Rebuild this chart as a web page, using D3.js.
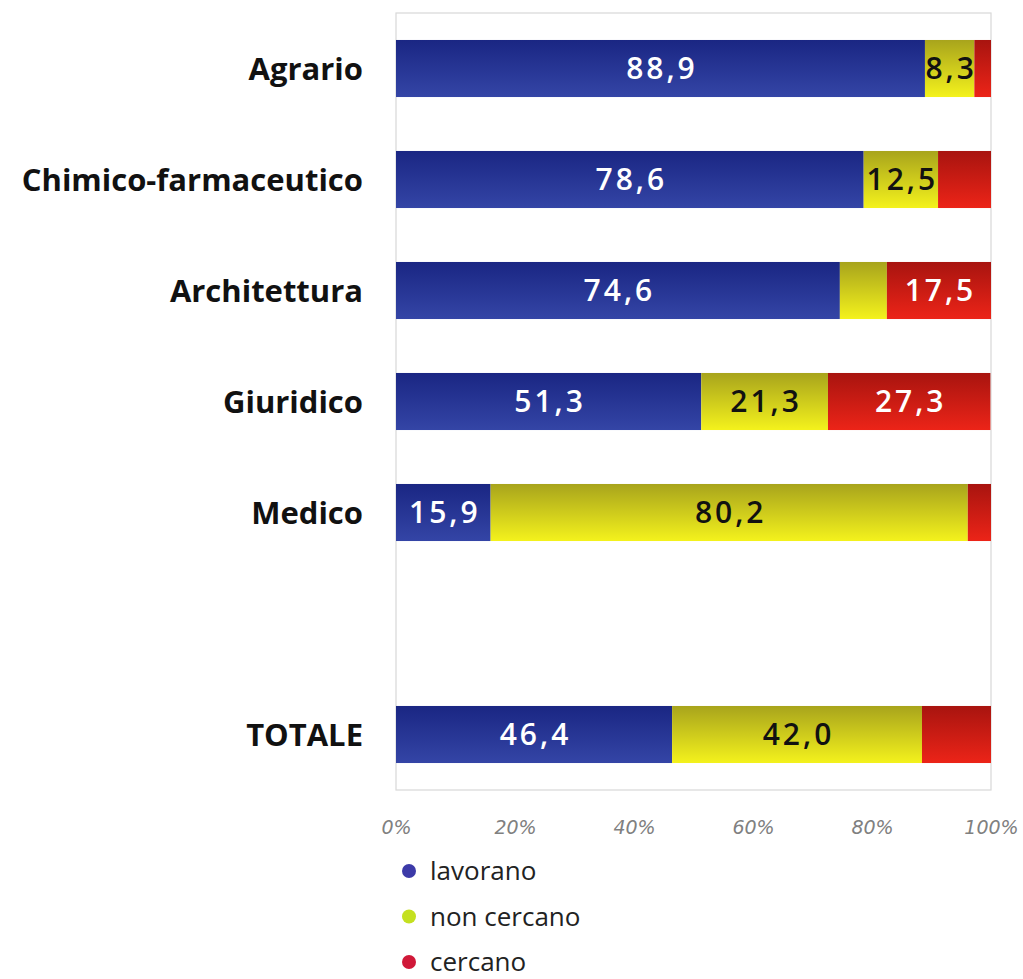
<!DOCTYPE html>
<html>
<head>
<meta charset="utf-8">
<script src="https://cdn.jsdelivr.net/npm/d3@7"></script>
<style>
	body { margin:0; background:#fff; }
	.cat-label { font-family:"Open Sans", sans-serif; font-weight:700; font-size:31px; fill:#111; }
	.val-label { font-family:"Open Sans", sans-serif; font-weight:600; font-size:30px; letter-spacing:3px; }
	.tick text { font-family:"DejaVu Sans", sans-serif; font-style:italic; font-size:19px; fill:#808080; }
	.legend-label { font-family:"Open Sans", sans-serif; font-size:26px; fill:#222; }
</style>
</head>
<body>
<div id="chart"></div>
<script>

// data
const categories = ["Agrario","Chimico-farmaceutico","Architettura","Giuridico","Medico","TOTALE"];
const lavorano    = [88.9, 78.6, 74.6, 51.3, 15.9, 46.4];
const nonCercano  = [ 8.3, 12.5,  7.9, 21.3, 80.2, 42.0];
const cercano     = [ 2.8,  8.9, 17.5, 27.3,  3.9, 11.6];
// which segments carry a printed value
const showLavorano   = [true, true, true, true, true, true];
const showNonCercano = [true, true, false, true, true, true];
const showCercano    = [false, false, true, true, false, false];
const seriesNames = ["lavorano","non cercano","cercano"];
const ticks = [0,20,40,60,80,100];

// set up
const w = 1023;
const h = 979;
const x0 = 396, x1 = 991;
const y0 = 13, y1 = 790;

// empty slot between Medico and TOTALE
const slots = categories.slice(0,5).concat([" "], categories.slice(5));

const x = d3.scaleLinear().domain([0,100]).range([x0,x1]);
const y = d3.scaleBand().domain(slots).range([y0,y1])
	.paddingInner(0.486).paddingOuter(0.243);

const series = [
	{key:"lavorano", values:lavorano, show:showLavorano, top:"#1a2683", bot:"#3445a6", text:"#fff", dot:"#3c3aa8"},
	{key:"nonCercano", values:nonCercano, show:showNonCercano, top:"#a8a41c", bot:"#f4f21c", text:"#111", dot:"#c4e020"},
	{key:"cercano", values:cercano, show:showCercano, top:"#a8140f", bot:"#ec2418", text:"#fff", dot:"#d01838"}
];

const svg = d3.select("#chart").append("svg")
	.attr("width", w)
	.attr("height", h);

// gradients
const defs = svg.append("defs");
series.forEach(s=>{
	const g = defs.append("linearGradient")
		.attr("id","grad-"+s.key)
		.attr("x1",0).attr("y1",0).attr("x2",0).attr("y2",1);
	g.append("stop").attr("offset","0%").attr("stop-color",s.top);
	g.append("stop").attr("offset","100%").attr("stop-color",s.bot);
});

// frame
svg.append("rect")
	.attr("x",x0).attr("y",y0)
	.attr("width",x1-x0).attr("height",y1-y0)
	.attr("fill","none")
	.attr("stroke","#d8d8d8")
	.attr("stroke-width",1.2);

// stacked rows
const rows = categories.map((c,i)=>{
	let acc = 0;
	return series.map(s=>{
		const seg = {cat:c, s:s, start:acc, val:s.values[i], show:s.show[i]};
		acc += s.values[i];
		return seg;
	});
}).flat();

svg.selectAll(".seg")
	.data(rows)
	.enter()
	.append("rect")
	.attr("class","seg")
	.attr("x",d=>x(d.start))
	.attr("y",d=>y(d.cat))
	.attr("width",d=>Math.min(x(d.start+d.val),x1)-x(d.start))
	.attr("height",y.bandwidth())
	.attr("fill",d=>"url(#grad-"+d.s.key+")");

svg.selectAll(".val-label")
	.data(rows.filter(d=>d.show))
	.enter()
	.append("text")
	.attr("class","val-label")
	.attr("x",d=>(x(d.start)+Math.min(x(d.start+d.val),x1))/2+1.5)
	.attr("y",d=>y(d.cat)+y.bandwidth()/2)
	.attr("dy","0.36em")
	.attr("text-anchor","middle")
	.attr("fill",d=>d.s.text)
	.text(d=>d.val.toFixed(1).replace(".",","));

// category labels
svg.selectAll(".cat-label")
	.data(categories)
	.enter()
	.append("text")
	.attr("class","cat-label")
	.attr("x",363)
	.attr("y",d=>y(d)+y.bandwidth()/2)
	.attr("dy","0.36em")
	.attr("text-anchor","end")
	.text(d=>d);

// x axis
const axis = svg.append("g")
	.attr("transform","translate(0,"+(y1+27)+")")
	.call(d3.axisBottom(x).tickValues(ticks).tickSize(0).tickFormat(d=>d+"%"));
axis.select(".domain").remove();

// legend
const legend = svg.selectAll(".legend")
	.data(series)
	.enter()
	.append("g")
	.attr("class","legend")
	.attr("transform",(d,i)=>"translate(409,"+(871+i*45.5)+")");

legend.append("circle")
	.attr("r",7)
	.attr("fill",d=>d.dot);

legend.append("text")
	.attr("class","legend-label")
	.attr("x",21)
	.attr("dy","0.35em")
	.text((d,i)=>seriesNames[i]);

</script>
</body>
</html>
